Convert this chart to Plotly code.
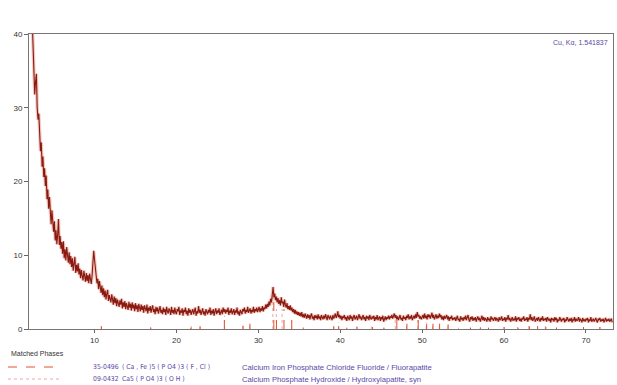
import numpy as np
import plotly.graph_objects as go

# Scan range (degrees 2-theta, 0.1 step) and measured counts (x1000), one row per degree
scan_start, scan_step = 2.0, 0.1
counts = [
    48.0, 45.5, 44.0, 40.0, 41.5, 37.0, 34.5, 31.8, 33.5, 34.6,
    30.0, 28.4, 29.2, 26.0, 24.1, 25.3, 22.0, 23.4, 20.6, 21.8,
    19.4, 20.8, 17.6, 18.9, 16.3, 17.9, 15.0, 14.2, 16.1, 13.8,
    13.2, 14.6, 12.0, 13.4, 11.5, 12.8, 14.9, 11.4, 12.6, 10.9,
    11.8, 10.2, 11.9, 9.6, 10.8, 9.3, 11.1, 10.1, 9.0, 10.4,
    8.8, 9.9, 8.4, 9.6, 7.9, 8.9, 9.8, 7.6, 8.7, 7.8,
    8.9, 7.4, 8.2, 6.9, 8.0, 7.2, 6.6, 7.9, 7.0, 6.4,
    7.6, 6.5, 7.3, 6.2, 7.5, 6.8, 6.1, 7.2, 8.6, 10.6,
    9.4, 8.1, 7.0, 6.2, 6.8, 5.4, 6.5, 5.6, 4.9, 5.9,
    4.6, 5.5, 4.3, 5.2, 4.0, 4.8, 5.3, 3.8, 4.6, 4.1,
    3.6, 4.7, 3.9, 3.3, 4.4, 3.5, 4.2, 3.1, 4.0, 3.4,
    3.0, 3.9, 3.3, 4.1, 2.8, 3.6, 3.0, 3.8, 2.7, 3.5,
    3.1, 2.6, 3.7, 2.9, 3.4, 2.5, 3.6, 2.8, 3.3, 2.4,
    3.5, 2.7, 3.2, 2.3, 3.4, 2.9, 2.4, 3.3, 2.6, 3.1,
    2.2, 3.2, 2.7, 2.4, 3.3, 2.1, 2.9, 2.5, 3.1, 2.2,
    2.8, 3.2, 2.3, 2.7, 2.0, 3.0, 2.4, 2.9, 2.1, 2.6,
    3.1, 2.2, 2.6, 2.0, 2.9, 2.3, 2.7, 1.9, 3.0, 2.4,
    2.1, 2.8, 2.5, 1.9, 3.0, 2.2, 2.6, 2.0, 2.9, 2.3,
    2.0, 2.7, 2.4, 3.0, 1.9, 2.5, 2.2, 2.8, 1.8, 2.6,
    2.3, 2.9, 2.0, 2.5, 1.8, 2.8, 2.2, 2.6, 1.9, 2.4,
    2.7, 2.0, 2.5, 2.9, 1.8, 2.4, 2.1, 3.1, 2.2, 2.6,
    1.9, 2.5, 2.8, 2.0, 2.4, 1.8, 2.7, 2.3, 2.0, 2.6,
    2.2, 2.9, 1.9, 2.5, 2.1, 2.7, 1.8, 2.4, 2.8, 2.0,
    2.5, 2.2, 2.8, 1.9, 2.4, 2.6, 2.0, 2.9, 2.3, 2.7,
    2.1, 2.6, 2.3, 2.9, 1.9, 2.5, 2.2, 2.8, 2.0, 2.4,
    2.7, 1.9, 2.5, 2.2, 2.9, 2.0, 2.4, 1.8, 2.6, 2.3,
    2.0, 2.7, 2.4, 2.9, 2.1, 2.6, 2.3, 3.0, 2.2, 2.5,
    2.8, 2.1, 2.6, 2.3, 3.0, 2.2, 2.7, 2.4, 2.9, 2.3,
    2.6, 3.0, 2.3, 2.8, 2.5, 3.1, 2.4, 2.9, 2.7, 3.3,
    2.8, 3.4, 3.0, 3.7, 3.2, 4.1, 3.6, 4.6, 5.7, 4.3,
    4.8, 3.9, 4.4, 3.6, 4.2, 3.4, 3.9, 3.2, 4.3, 3.5,
    3.7, 3.0, 4.0, 3.3, 2.9, 3.5, 2.7, 3.1, 2.6, 3.2,
    2.5, 2.9, 2.3, 2.7, 2.1, 2.6, 2.0, 2.4, 1.9, 2.3,
    1.8, 2.2, 1.7, 2.3, 1.6, 2.0, 1.5, 2.1, 1.7, 1.4,
    2.0, 1.5, 1.9, 1.3, 1.8, 2.1, 1.4, 1.7, 1.2, 1.9,
    1.5, 1.8, 1.3, 2.0, 1.4, 1.7, 1.2, 1.9, 1.6, 1.3,
    1.8, 1.4, 2.0, 1.5, 1.2, 1.9, 1.6, 1.3, 1.8, 1.5,
    1.2, 1.9, 1.4, 1.7, 2.1, 1.5, 1.8, 2.4, 1.6, 1.9,
    1.4, 1.8, 1.2, 1.7, 1.5, 1.9, 1.3, 1.6, 1.1, 1.8,
    1.5, 1.2, 1.9, 1.4, 1.7, 1.1, 1.6, 1.9, 1.3, 1.5,
    1.8, 1.2, 1.6, 2.0, 1.4, 1.7, 1.2, 1.5, 1.9, 1.3,
    1.6, 1.1, 1.8, 1.4, 1.7, 1.2, 1.9, 1.5, 1.3, 1.7,
    1.4, 1.8, 1.1, 1.6, 1.3, 1.9, 1.2, 1.5, 1.7, 1.1,
    1.6, 1.3, 1.8, 1.0, 1.5, 1.7, 1.2, 1.6, 1.4, 1.8,
    1.3, 1.7, 1.5, 1.9, 1.4, 1.8, 2.1, 1.5, 1.9, 1.3,
    1.7, 1.2, 1.6, 1.9, 1.3, 1.5, 1.1, 1.8, 1.4, 1.6,
    1.2, 1.8, 1.5, 2.0, 1.3, 1.7, 1.4, 1.9, 1.2, 1.6,
    1.8, 1.4, 2.0, 1.5, 2.3, 1.7, 1.9, 1.4, 1.7, 1.3,
    1.6, 1.9, 1.4, 2.1, 1.5, 1.8, 1.3, 2.0, 1.6, 1.9,
    1.4, 1.8, 2.2, 1.5, 1.9, 1.3, 1.7, 2.0, 1.4, 1.8,
    1.5, 2.1, 1.6, 1.9, 1.3, 1.7, 1.2, 1.8, 1.4, 1.6,
    1.9, 1.3, 1.7, 1.1, 1.6, 1.4, 1.8, 1.2, 1.5, 1.3,
    1.6, 1.1, 1.5, 1.8, 1.2, 1.4, 1.0, 1.7, 1.3, 1.5,
    1.1, 1.6, 1.3, 1.8, 1.2, 1.5, 1.9, 1.3, 1.0, 1.6,
    1.3, 1.7, 1.1, 1.5, 1.2, 1.6, 1.0, 1.4, 1.7, 1.2,
    1.5, 1.0, 1.4, 1.8, 1.2, 1.6, 1.1, 1.5, 1.3, 1.0,
    1.6, 1.2, 1.4, 1.0, 1.7, 1.3, 1.5, 1.1, 1.4, 1.6,
    1.1, 1.5, 1.3, 1.0, 1.6, 1.2, 1.4, 1.7, 1.1, 1.4,
    1.2, 1.6, 1.0, 1.5, 1.3, 1.9, 1.2, 1.5, 1.0, 1.4,
    1.6, 1.1, 1.4, 1.2, 1.7, 1.0, 1.5, 1.3, 1.6, 1.1,
    1.4, 1.0, 1.5, 1.3, 1.7, 1.1, 1.4, 1.2, 1.6, 1.0,
    1.5, 1.3, 2.0, 1.2, 1.6, 1.1, 1.4, 1.7, 1.0, 1.3,
    1.5, 1.1, 1.6, 1.3, 1.0, 1.5, 1.2, 1.7, 1.1, 1.4,
    1.2, 1.5, 1.0, 1.6, 1.3, 1.1, 1.4, 0.9, 1.5, 1.2,
    1.4, 1.0, 1.6, 1.2, 1.5, 0.9, 1.3, 1.1, 1.6, 1.2,
    1.0, 1.4, 1.2, 1.5, 0.9, 1.3, 1.1, 1.6, 1.2, 1.0,
    1.4, 1.1, 1.5, 0.9, 1.3, 1.2, 1.6, 1.0, 1.4, 1.1,
    1.3, 1.6, 1.0, 1.4, 1.2, 0.9, 1.5, 1.1, 1.3, 1.0,
    1.4, 1.2, 1.5, 0.9, 1.3, 1.1, 1.6, 1.0, 1.2, 1.4,
    1.0, 1.3, 1.5, 1.1, 0.9, 1.4, 1.2, 1.5, 1.0, 1.3,
    1.1, 1.4, 0.9, 1.2, 1.5, 1.0, 1.3, 1.1, 1.4, 1.0,
    1.2, 1.4, 0.9,
]
two_theta = np.round(scan_start + scan_step * np.arange(len(counts)), 2)

# Reference card 35-0496 (fluorapatite): positions and relative intensities
card_a_pos = [10.84, 16.87, 21.76, 22.88, 25.85, 28.13, 28.97, 31.89, 32.21, 33.13,
              34.08, 35.50, 39.21, 39.80, 40.80, 42.04, 43.95, 45.34, 46.91, 48.14,
              49.52, 50.55, 51.32, 52.13, 53.17, 55.90, 57.10, 58.10, 60.00, 61.70,
              63.10, 64.10, 65.10, 66.40, 69.70, 71.70]
card_a_int = [8, 4, 4, 8, 40, 10, 16, 100, 55, 60,
              30, 2, 8, 8, 4, 6, 6, 4, 30, 16,
              30, 16, 16, 16, 14, 4, 4, 4, 6, 4,
              8, 8, 6, 4, 6, 6]
# Reference card 09-0432 (hydroxylapatite)
card_b_pos = [10.82, 16.84, 21.82, 22.90, 25.88, 28.13, 28.97, 31.77, 32.20, 32.90,
              34.05, 35.48, 39.20, 39.82, 42.03, 43.80, 45.30, 46.71, 48.10, 49.47,
              50.49, 51.28, 52.10, 53.14, 54.44, 55.88, 57.13, 60.02, 61.66, 63.01,
              64.08, 65.03, 66.40, 69.70, 71.70]
card_b_int = [12, 6, 10, 8, 40, 9, 11, 100, 60, 60,
              25, 6, 8, 20, 10, 8, 4, 30, 16, 40,
              20, 12, 16, 12, 4, 4, 6, 6, 6, 10,
              12, 10, 4, 6, 6]
stick_full_scale = 4.5

x_range = [2, 73.3]
y_range = [0, 40]
y_ticks = [0, 10, 20, 30, 40]
x_ticks = [10, 20, 30, 40, 50, 60, 70]

phase_codes = ["35-0496", "09-0432"]
phase_formulas = ["( Ca , Fe )5 ( P O4 )3 ( F , Cl )", "Ca5 ( P O4 )3 ( O H )"]
phase_names = ["Calcium Iron Phosphate Chloride Fluoride / Fluorapatite",
               "Calcium Phosphate Hydroxide / Hydroxylapatite, syn"]
phase_colors = ["#e0502e", "#f2a6a6"]
phase_dashes = ["dash", "dot"]

FONT = "Arial, Liberation Sans, sans-serif"
NARROW = "Liberation Sans Narrow, Arial Narrow, DejaVu Sans Condensed, Arial, sans-serif"
TEXT_PURPLE = "#5a47a6"


def sticks(pos, inten):
    xs, ys = [], []
    for p, i in zip(pos, inten):
        xs += [p, p, None]
        ys += [0, i / 100 * stick_full_scale, None]
    return xs, ys


fig = go.Figure()

for pos, inten, col, dash in [(card_b_pos, card_b_int, phase_colors[1], phase_dashes[1]),
                              (card_a_pos, card_a_int, phase_colors[0], phase_dashes[0])]:
    sx, sy = sticks(pos, inten)
    fig.add_trace(go.Scatter(x=sx, y=sy, mode="lines", hoverinfo="skip",
                             line=dict(color=col, width=1, dash=dash)))

# soft halo under the pattern, then the pattern itself
fig.add_trace(go.Scatter(x=two_theta, y=counts, mode="lines", hoverinfo="skip",
                         line=dict(color="rgba(215,90,70,0.33)", width=3.4)))
fig.add_trace(go.Scatter(x=two_theta, y=counts, mode="lines",
                         line=dict(color="#8a1a10", width=1.1)))

# plot area in pixels
L, R, T, B = 29, 613, 34, 329
W, H = 617, 385


def px(x):
    return (x - L) / (R - L)


def py(y):
    return (B - y) / (B - T)


def note(x, y, text, color, anchor="left", size=7, family=FONT):
    return dict(x=px(x), y=py(y), xref="paper", yref="paper", text=text,
                showarrow=False, xanchor=anchor, yanchor="middle",
                font=dict(size=size, color=color, family=family))


annotations = [
    note(610, 42, "Cu, Kα, 1.541837", TEXT_PURPLE, anchor="right"),
    note(9, 353, "Matched Phases", "#333333"),
]
shapes = []
row_y = [367, 379]
for k in range(2):
    shapes.append(dict(type="line", xref="paper", yref="paper",
                       x0=px(8), x1=px(62), y0=py(row_y[k]), y1=py(row_y[k]),
                       line=dict(color=phase_colors[k], width=1, dash=phase_dashes[k])))
    annotations.append(note(91, row_y[k], phase_codes[k], TEXT_PURPLE, size=6.8, family=NARROW))
    annotations.append(note(120, row_y[k], phase_formulas[k], TEXT_PURPLE, size=6.8, family=NARROW))
    annotations.append(note(240, row_y[k], phase_names[k], TEXT_PURPLE, size=7.7))

fig.update_layout(
    width=W, height=H,
    margin=dict(l=L, r=W - R, t=T, b=H - B),
    paper_bgcolor="white", plot_bgcolor="white",
    showlegend=False,
    font=dict(family=FONT, size=8, color="#333333"),
    annotations=annotations,
    shapes=shapes,
    xaxis=dict(range=x_range, tickvals=x_ticks, ticks="outside", ticklen=3,
               tickcolor="#666666", showgrid=False, zeroline=False,
               showline=True, linecolor="#7a7474", linewidth=1, mirror=True,
               tickfont=dict(size=8, color="#333333")),
    yaxis=dict(range=y_range, tickvals=y_ticks, ticks="outside", ticklen=4,
               tickcolor="#666666", showgrid=False, zeroline=False,
               showline=True, linecolor="#7a7474", linewidth=1, mirror=True,
               tickfont=dict(size=8, color="#333333")),
)

fig.write_html("out.html")
